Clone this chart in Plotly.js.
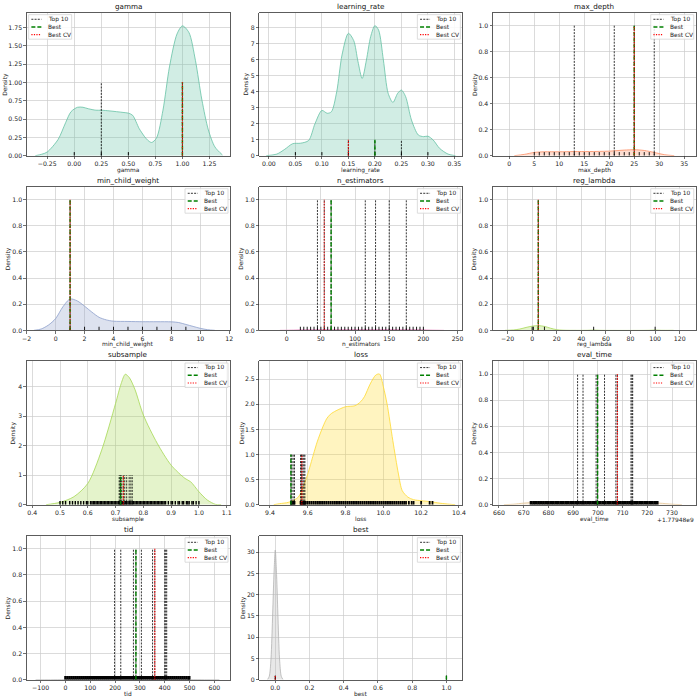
<!DOCTYPE html>
<html><head><meta charset="utf-8">
<script src="https://cdn.plot.ly/plotly-3.0.1.min.js"></script>
<style>html,body{margin:0;padding:0;background:#fff}#chart{width:700px;height:700px}</style>
</head><body><div id="chart"></div>
<script>
// ---------------- data ----------------
const paramNames = ['gamma','learning_rate','max_depth','min_child_weight','n_estimators','reg_lambda','subsample','loss','eval_time','tid','best'];
const legendLabels = ['Top 10','Best','Best CV'];
const yLabel = 'Density';
const evalTimeOffset = '+1.77948e9';

// gamma
const gamma_kdeX = [-0.36,-0.3,-0.25,-0.15,-0.08,-0.03,0.03,0.08,0.13,0.2,0.25,0.33,0.45,0.5,0.54,0.6,0.65,0.68,0.715,0.76,0.82,0.88,0.95,1.0,1.06,1.12,1.18,1.24,1.3,1.37];
const gamma_kdeY = [0,0.02,0.05,0.22,0.45,0.6,0.66,0.66,0.64,0.62,0.62,0.61,0.59,0.58,0.55,0.37,0.26,0.21,0.18,0.24,0.62,1.21,1.66,1.77,1.68,1.30,0.76,0.35,0.12,0.01];
const gamma_rug = [0,0.25,0.5,1.0];
const gamma_top10 = [0.25,1.0];
const gamma_best = [1.0];
const gamma_bestCV = [1.0];

// learning_rate
const lr_kdeX = [-0.005,0.015,0.03,0.045,0.06,0.075,0.087,0.1,0.11,0.118,0.128,0.138,0.15,0.16,0.168,0.176,0.184,0.192,0.2,0.207,0.216,0.225,0.234,0.243,0.25,0.258,0.269,0.282,0.292,0.30,0.31,0.322,0.338,0.352];
const lr_kdeY = [0,0.1,0.4,0.75,0.78,0.95,2.0,2.83,2.65,2.75,4.0,6.3,7.65,7.2,5.9,4.83,5.98,7.44,8.13,7.85,5.98,3.9,3.33,3.9,4.1,3.69,2.23,1.29,1.19,1.22,0.98,0.46,0.1,0];
const lr_rug = [0.05,0.1,0.15,0.2,0.25,0.3];
const lr_top10 = [0.15,0.2,0.25];
const lr_best = [0.2];
const lr_bestCV = [0.15];

// max_depth
const md_kdeX = [1,3,5,7,10,13,16,20,23,25,27,29,31,33];
const md_kdeY = [0,0.01,0.025,0.03,0.03,0.032,0.032,0.035,0.043,0.046,0.04,0.025,0.008,0];
const md_rug = [5,6,7,8,9,10,11,12,13,14,15,16,17,18,19,20,21,22,23,24,25,26,27,28,29];
const md_top10 = [13,21,25,29];
const md_best = [25];
const md_bestCV = [25];

// min_child_weight
const mcw_kdeX = [-1.5,-1,-0.5,0,0.5,1,1.5,2,2.5,3,3.5,4,5,6,7,8,8.5,9,9.5,10,10.5,11];
const mcw_kdeY = [0,0.01,0.04,0.09,0.18,0.24,0.225,0.185,0.14,0.1,0.08,0.07,0.068,0.066,0.066,0.065,0.06,0.045,0.03,0.015,0.005,0];
const mcw_rug = [1,2,3,4,5,6,7,8,9];
const mcw_top10 = [1];
const mcw_best = [1];
const mcw_bestCV = [1];

// n_estimators
const ne_kdeX = [-10,10,20,50,100,150,200,210,230];
const ne_kdeY = [0,0.002,0.004,0.0055,0.0055,0.0055,0.004,0.002,0];
const ne_rug = [20,25,30,35,40,45,50,55,60,65,70,75,80,85,90,95,100,105,110,115,120,125,130,135,140,145,150,155,160,165,170,175,180,185,190,195,200];
const ne_top10 = [45,55,65,115,130,150,175];
const ne_best = [65];
const ne_bestCV = [55];

// reg_lambda
const rl_kdeX = [-22,-15,-10,-5,0,5,10,15,20,25,30,45,50,55,95,100,105,115];
const rl_kdeY = [0,0.003,0.01,0.022,0.032,0.036,0.03,0.016,0.005,0.001,0,0,0.002,0,0,0.002,0,0];
const rl_rug = [0,1,5,10,50,100];
const rl_top10 = [5];
const rl_best = [5];
const rl_bestCV = [5];

// subsample
const ss_kdeX = [0.45,0.5,0.55,0.6,0.65,0.7,0.72,0.735,0.75,0.77,0.8,0.85,0.9,0.95,0.97,1.0,1.03,1.06,1.08];
const ss_kdeY = [0,0.08,0.27,0.72,1.85,3.43,4.1,4.42,4.3,3.9,3.04,2.08,1.34,0.89,0.78,0.44,0.16,0.01,0];
const ss_rug = [0.50,0.51,0.52,0.535,0.545,0.555,0.565,0.575,0.585,0.595,0.60,0.61,0.615,
  0.62,0.625,0.63,0.635,0.64,0.645,0.65,0.655,0.66,0.665,0.67,0.675,0.68,0.685,0.69,0.695,0.70,0.705,0.71,0.715,0.72,0.725,0.73,0.735,0.74,0.745,0.75,0.755,0.76,0.765,0.77,0.775,0.78,0.785,0.79,0.795,0.80,0.805,0.81,0.815,0.82,0.825,0.83,0.835,0.84,0.845,0.85,0.855,0.86,0.865,0.87,0.875,0.88,
  0.89,0.90,0.905,0.915,0.925,0.93,0.94,0.945,0.955,0.96,0.965,0.975,0.98,0.99,1.0];
const ss_top10 = [0.713,0.716,0.718,0.722,0.728,0.733,0.740,0.749,0.755,0.760];
const ss_best = [0.718];
const ss_bestCV = [0.728];

// loss
const loss_kdeX = [9.42,9.45,9.5,9.55,9.58,9.6,9.63,9.65,9.68,9.7,9.72,9.75,9.8,9.85,9.88,9.9,9.93,9.96,9.98,10.0,10.02,10.05,10.08,10.1,10.13,10.16,10.2,10.25,10.3,10.35,10.38];
const loss_kdeY = [0,0.02,0.05,0.15,0.4,0.61,1.0,1.25,1.55,1.71,1.8,1.87,1.95,1.97,2.05,2.15,2.4,2.58,2.6,2.35,2.0,1.28,0.61,0.28,0.15,0.1,0.08,0.06,0.03,0.01,0];
const loss_rug = [9.511,9.516,9.523,9.530,9.562,9.566,9.569,9.575,9.58,9.585,9.59,
  9.60,9.61,9.62,9.63,9.64,9.65,9.66,9.67,9.68,9.69,9.70,9.71,9.72,9.73,9.74,9.75,9.76,9.77,9.78,9.79,9.80,9.81,9.82,9.83,9.84,9.85,9.86,9.87,9.88,9.89,9.90,9.91,9.92,9.93,9.94,9.95,9.96,9.97,9.98,9.99,10.00,10.01,10.02,10.03,10.04,10.05,10.06,10.07,10.08,
  10.09,10.1,10.11,10.12,10.135,10.15,10.16,10.2,10.245,10.26];
const loss_top10 = [9.511,9.516,9.523,9.530,9.562,9.566,9.569,9.575,9.580,9.585];
const loss_best = [9.511];
const loss_bestCV = [9.569];

// eval_time (offset +1.77948e9)
const et_kdeX = [662,666,670,675,680,700,720,725,730,734];
const et_kdeY = [0,0.004,0.012,0.018,0.02,0.02,0.019,0.012,0.004,0];
const et_rug = [673,674,675,676,677,678,679,680,681,682,683,684,685,686,687,688,689,690,691,692,693,694,695,696,697,698,699,700,701,702,703,704,705,706,707,708,709,710,711,712,713,714,715,716,717,718,719,720,721,722,723,724];
const et_top10 = [691.8,694.0,699.3,699.9,702.7,707.3,707.9,713.4,713.8,714.1];
const et_best = [699.9];
const et_bestCV = [707.9];

// tid
const tid_kdeX = [-120,-60,0,100,200,300,400,500,560,620];
const tid_kdeY = [0,0.0005,0.0015,0.0019,0.002,0.002,0.0019,0.0015,0.0005,0];
const tid_rug = [0,8,16,24,32,40,48,56,64,72,80,88,96,104,112,120,128,136,144,152,160,168,176,184,192,200,208,216,224,232,240,248,256,264,272,280,288,296,304,312,320,328,336,344,352,360,368,376,384,392,400,408,416,424,432,440,448,456,464,472,480,488,496,499];
const tid_top10 = [198,223,274,284,306,351,360,400,404,408];
const tid_best = [284];
const tid_bestCV = [360];

// best
const b_kdeX = [-0.045,-0.035,-0.025,-0.015,-0.008,0,0.008,0.015,0.025,0.035,0.045];
const b_kdeY = [0.05,0.8,4.9,15.7,24.4,30.5,24.4,15.7,4.9,0.8,0.05];
const b_rug = [0,1];
const b_top10 = [0,1];
const b_best = [1];
const b_bestCV = [0];

// ---------------- assembly ----------------
const series = [
  {kx:gamma_kdeX, ky:gamma_kdeY, rug:gamma_rug, top:gamma_top10, best:gamma_best, cv:gamma_bestCV},
  {kx:lr_kdeX, ky:lr_kdeY, rug:lr_rug, top:lr_top10, best:lr_best, cv:lr_bestCV},
  {kx:md_kdeX, ky:md_kdeY, rug:md_rug, top:md_top10, best:md_best, cv:md_bestCV},
  {kx:mcw_kdeX, ky:mcw_kdeY, rug:mcw_rug, top:mcw_top10, best:mcw_best, cv:mcw_bestCV},
  {kx:ne_kdeX, ky:ne_kdeY, rug:ne_rug, top:ne_top10, best:ne_best, cv:ne_bestCV},
  {kx:rl_kdeX, ky:rl_kdeY, rug:rl_rug, top:rl_top10, best:rl_best, cv:rl_bestCV},
  {kx:ss_kdeX, ky:ss_kdeY, rug:ss_rug, top:ss_top10, best:ss_best, cv:ss_bestCV},
  {kx:loss_kdeX, ky:loss_kdeY, rug:loss_rug, top:loss_top10, best:loss_best, cv:loss_bestCV},
  {kx:et_kdeX, ky:et_kdeY, rug:et_rug, top:et_top10, best:et_best, cv:et_bestCV},
  {kx:tid_kdeX, ky:tid_kdeY, rug:tid_rug, top:tid_top10, best:tid_best, cv:tid_bestCV},
  {kx:b_kdeX, ky:b_kdeY, rug:b_rug, top:b_top10, best:b_best, cv:b_bestCV}
];

// styles / axis settings
const styles = [
  {color:'102,194,165', xr:[-0.44,1.44], yr:[0,1.95], xt0:-0.25, xdt:0.25, xf:'.2f', ydt:0.25, yf:'.2f', legLeft:true, yls:-21, rugW:1},
  {color:'102,194,165', xr:[-0.018,0.365], yr:[0,8.94], xt0:0, xdt:0.05, xf:'.2f', ydt:1, yf:'d', yls:-13, rugW:1},
  {color:'252,141,98', xr:[-3.3,37.3], yr:[0,1.1], xt0:0, xdt:5, xf:'d', ydt:0.2, yf:'.1f', yls:-18, rugW:0.9},
  {color:'141,160,203', xr:[-2.0,12.05], yr:[0,1.1], xt0:-2, xdt:2, xf:'d', ydt:0.2, yf:'.1f', yls:-18, rugW:0.9},
  {color:'231,138,195', xr:[-40,257], yr:[0,1.1], xt0:0, xdt:50, xf:'d', ydt:0.2, yf:'.1f', yls:-18, rugW:0.9},
  {color:'166,216,84', xr:[-32,133], yr:[0,1.1], xt0:-20, xdt:20, xf:'d', ydt:0.2, yf:'.1f', yls:-18, rugW:0.9},
  {color:'166,216,84', xr:[0.38,1.112], yr:[0,4.87], xt0:0.4, xdt:0.1, xf:'.1f', ydt:1, yf:'d', yls:-13, rugW:1.4},
  {color:'255,217,47', xr:[9.344,10.418], yr:[0,2.86], xt0:9.4, xdt:0.2, xf:'.1f', ydt:0.5, yf:'.1f', yls:-17, rugW:1.8},
  {color:'229,196,148', xr:[657.5,739.6], yr:[0,1.1], xt0:660, xdt:10, xf:'d', ydt:0.2, yf:'.1f', yls:-18, rugW:2.8},
  {color:'179,179,179', xr:[-156,663], yr:[0,1.1], xt0:-100, xdt:100, xf:'d', ydt:0.2, yf:'.1f', yls:-18, rugW:2.4},
  {color:'179,179,179', xr:[-0.093,1.093], yr:[0,33.9], xt0:0, xdt:0.2, xf:'.1f', ydt:5, yf:'d', yls:-16, rugW:1}
];

const colDom = [[0.0381,0.3286],[0.3705,0.6605],[0.7040,0.9939]];
const rowDom = [[0.7776,0.9819],[0.5281,0.7333],[0.279,0.4843],[0.029,0.2347]];

const FONT = 'DejaVu Sans, sans-serif';
const TICK = 6.2, LAB = 5.9, TITLE = 7.2, LEG = 5.9;
const lineStyles = [
  {color:'#000000', width:0.8, dash:'2px,1.2px'},
  {color:'#008000', width:1.4, dash:'4px,2px'},
  {color:'#ff0000', width:1.2, dash:'1.2px,1.3px'}
];

function segs(vals, y0, y1){
  const x=[], y=[];
  vals.forEach(v=>{x.push(v,v,null); y.push(y0,y1,null);});
  return {x,y};
}

const traces=[], annotations=[], shapes=[];
const layout = {
  width:700, height:700, margin:{l:0,r:0,t:0,b:0},
  paper_bgcolor:'#fff', plot_bgcolor:'#fff', showlegend:false,
  font:{family:FONT, color:'#222'}
};

paramNames.forEach((name,i)=>{
  const s = i===0 ? '' : String(i+1);
  const d = series[i], st = styles[i];
  const xa='x'+s, ya='y'+s;
  const row=Math.floor(i/3), col=i%3;
  // KDE
  traces.push({type:'scatter', mode:'lines', x:d.kx, y:d.ky, xaxis:xa, yaxis:ya,
    line:{color:'rgb('+st.color+')', width:0.8, shape:'spline', smoothing:0.8},
    fill:'tozeroy', fillcolor:'rgba('+st.color+',0.3)', hoverinfo:'skip', showlegend:false});
  // rug
  const h = 0.025*st.yr[1];
  const r = segs(d.rug,0,h);
  traces.push({type:'scatter', mode:'lines', x:r.x, y:r.y, xaxis:xa, yaxis:ya,
    line:{color:'#000', width:st.rugW}, hoverinfo:'skip', showlegend:false});
  // top10 / best / best cv
  [d.top, d.best, d.cv].forEach((vals,k)=>{
    const g = segs(vals,0,1);
    traces.push({type:'scatter', mode:'lines', x:g.x, y:g.y, xaxis:xa, yaxis:ya,
      name:legendLabels[k], line:lineStyles[k], hoverinfo:'skip', showlegend:false});
  });
  const axCommon = {showline:true, mirror:true, linecolor:'#333', linewidth:0.8,
    ticks:'outside', ticklen:2.5, tickwidth:0.7, tickcolor:'#333',
    tickfont:{size:TICK, color:'#222', family:FONT}, showgrid:true, gridcolor:'#cccccc', gridwidth:0.7,
    zeroline:false, automargin:false, fixedrange:true};
  layout['xaxis'+s] = Object.assign({}, axCommon, {domain:colDom[col], anchor:ya, range:st.xr,
    tick0:st.xt0, dtick:st.xdt, tickformat:st.xf});
  layout['yaxis'+s] = Object.assign({}, axCommon, {domain:rowDom[row], anchor:xa, range:st.yr,
    tick0:0, dtick:st.ydt, tickformat:st.yf});
  const xd = xa+' domain', yd = ya+' domain';
  // title
  annotations.push({xref:xd, yref:yd, x:0.5, y:1, yshift:6.5, xanchor:'center', yanchor:'middle',
    text:name, showarrow:false, font:{size:TITLE, color:'#111', family:FONT}});
  // x label
  annotations.push({xref:xd, yref:yd, x:0.5, y:0, yshift:-14.5, xanchor:'center', yanchor:'middle',
    text:name, showarrow:false, font:{size:LAB, color:'#222', family:FONT}});
  // y label
  annotations.push({xref:xd, yref:yd, x:0, y:0.5, xshift:st.yls, xanchor:'center', yanchor:'middle',
    text:yLabel, textangle:-90, showarrow:false, font:{size:LAB, color:'#222', family:FONT}});
  // legend (drawn box, samples and labels)
  const ax = st.legLeft ? 0 : 1;
  const L = st.legLeft ? 2 : -45;
  shapes.push({type:'rect', xref:xd, yref:yd, xsizemode:'pixel', ysizemode:'pixel', xanchor:ax, yanchor:1,
    x0:L, x1:L+43, y0:-2, y1:-26.5, line:{color:'#d4d4d4', width:0.8}, fillcolor:'rgba(255,255,255,0.85)', layer:'above'});
  legendLabels.forEach((lab,k)=>{
    const yy = -6.6 - 7.7*k;
    shapes.push({type:'line', xref:xd, yref:yd, xsizemode:'pixel', ysizemode:'pixel', xanchor:ax, yanchor:1,
      x0:L+2.7, x1:L+12.7, y0:yy, y1:yy, line:lineStyles[k], layer:'above'});
    annotations.push({xref:xd, yref:yd, x:ax, y:1, xshift:L+17, yshift:yy, xanchor:'left', yanchor:'middle',
      text:lab, showarrow:false, font:{size:LEG, color:'#222', family:FONT}});
  });
  if(name==='eval_time'){
    annotations.push({xref:xd, yref:yd, x:1, y:0, yshift:-15, xanchor:'right', yanchor:'middle',
      text:evalTimeOffset, showarrow:false, font:{size:LAB, color:'#222', family:FONT}});
  }
});

layout.annotations = annotations;
layout.shapes = shapes;
Plotly.newPlot('chart', traces, layout, {staticPlot:true, displayModeBar:false});
</script></body></html>
